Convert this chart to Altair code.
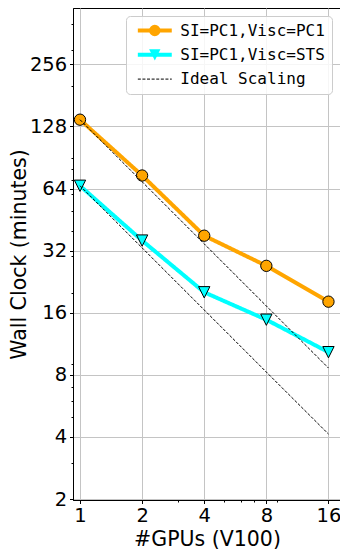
import json
import altair as alt
import pandas as pd

# ---- data ----
gpus = [1, 2, 4, 8, 16]
pc1_minutes = [138, 74, 37.8, 27, 18.1]
sts_minutes = [66, 35.8, 20.1, 14.8, 10.3]
ideal_from_pc1 = [138, 69, 34.5, 17.25, 8.63]
ideal_from_sts = [66, 33, 16.5, 8.25, 4.13]

series_names = ["SI=PC1,Visc=PC1", "SI=PC1,Visc=STS", "Ideal Scaling"]
series_colors = ["#FFA500", "#00FFFF", "black"]
series_widths = [4, 4, 1]
series_dashes = [[1, 0], [1, 0], [3, 1.6]]
marker_names = series_names[:2]
marker_shapes = ["circle", "M0,1L1,-1L-1,-1Z"]

y_major = [2, 4, 8, 16, 32, 64, 128, 256]
y_minor = [3, 5, 6, 7, 9, 20, 30, 40, 50, 60, 70, 80, 90, 200, 300, 400]
x_major = [1, 2, 4, 8, 16]
x_minor = [3, 5, 6, 7, 9]

# ---- tables ----
main_rows = []
for name, vals in zip(series_names[:2], [pc1_minutes, sts_minutes]):
    for g, v in zip(gpus, vals):
        main_rows.append({"gpus": g, "minutes": v, "series": name, "mseries": name, "grp": name})
main_df = pd.DataFrame(main_rows)

ideal_rows = []
for grp, vals in zip(["ideal_pc1", "ideal_sts"], [ideal_from_pc1, ideal_from_sts]):
    for g, v in zip(gpus, vals):
        ideal_rows.append({"gpus": g, "minutes": v, "series": series_names[2], "grp": grp})
ideal_df = pd.DataFrame(ideal_rows)


def cond(major, yes, no):
    return {"condition": {"test": "indexof(%s, datum.value) >= 0" % json.dumps(major), "value": yes},
            "value": no}


x_scale = alt.Scale(type="log", base=2, domain=[0.925, 18.2], nice=False)
y_scale = alt.Scale(type="log", base=2, domain=[1.978, 480], nice=False)

x_axis = alt.Axis(
    values=x_major + x_minor, format="d",
    labelExpr="indexof(%s, datum.value) >= 0 ? datum.label : ''" % json.dumps(x_major),
    tickSize=cond(x_major, 3.5, 2), gridOpacity=cond(x_major, 1, 0),
    labelFlush=False, labelOverlap=False,
    title="#GPUs (V100)", titleX=134, titleY=45.5, titleBaseline="alphabetic",
)
y_axis = alt.Axis(
    values=y_major + y_minor, format="d",
    labelExpr="indexof(%s, datum.value) >= 0 ? datum.label : ''" % json.dumps(y_major),
    tickSize=cond(y_major, 3.5, 2), gridOpacity=cond(y_major, 1, 0),
    labelFlush=False, labelOverlap=False,
    title="Wall Clock (minutes)", titleX=-47.5, titleY=246, titleAngle=-90,
    titleBaseline="alphabetic",
)

X = alt.X("gpus:Q", scale=x_scale, axis=x_axis)
Y = alt.Y("minutes:Q", scale=y_scale, axis=y_axis)

color_scale = alt.Scale(domain=series_names, range=series_colors)
width_scale = alt.Scale(type="ordinal", domain=series_names, range=series_widths)
dash_scale = alt.Scale(domain=series_names, range=series_dashes)

legend_common = dict(
    orient="none", legendX=53, legendY=8, padding=6.5, title=None,
    symbolOffset=14.3, labelOffset=17.5, labelFont="DejaVu Sans Mono",
    labelFontSize=16, labelColor="black", labelLimit=400, rowPadding=8.3,
)

legend_lines = alt.Legend(
    fillColor="rgba(255,255,255,0.85)", strokeColor="#cccccc", cornerRadius=4,
    symbolType="M-4,0H4", symbolSize=72, zindex=0, **legend_common,
)
legend_marks = alt.Legend(
    symbolSize=128, symbolStrokeColor="black", symbolStrokeWidth=1,
    labelOpacity=0, zindex=1, **legend_common,
)

lines = alt.Chart(main_df).mark_line(strokeCap="butt").encode(
    x=X, y=Y,
    color=alt.Color("series:N", scale=color_scale, legend=legend_lines),
    strokeWidth=alt.StrokeWidth("series:N", scale=width_scale),
    strokeDash=alt.StrokeDash("series:N", scale=dash_scale),
    detail="grp:N",
)

points = alt.Chart(main_df).mark_point(filled=True, stroke="black", strokeWidth=1,
                                       size=128, opacity=1).encode(
    x=X, y=Y,
    shape=alt.Shape("mseries:N", scale=alt.Scale(domain=marker_names, range=marker_shapes),
                    legend=legend_marks),
    fill=alt.Fill("mseries:N", scale=alt.Scale(domain=marker_names, range=series_colors[:2])),
)

ideal = alt.Chart(ideal_df).mark_line().encode(
    x=X, y=Y,
    color=alt.Color("series:N", scale=color_scale, legend=legend_lines),
    strokeWidth=alt.StrokeWidth("series:N", scale=width_scale),
    strokeDash=alt.StrokeDash("series:N", scale=dash_scale),
    detail="grp:N",
)

chart = alt.layer(lines, points, ideal).properties(
    width=267, height=492,
    autosize=alt.AutoSizeParams(type="none"),
    padding={"left": 65, "top": 0, "right": 0, "bottom": 50},
).configure_view(
    stroke="black", strokeWidth=1,
).configure_axis(
    labelFont="DejaVu Sans", titleFont="DejaVu Sans",
    labelFontSize=19.5, titleFontSize=20.5, titleFontWeight="normal",
    labelColor="black", titleColor="black", tickColor="black",
    domainColor="black", domainWidth=1, tickWidth=1,
    gridColor="#c4c4c4", gridWidth=1, labelPadding=2.8,
)

chart.save("out.html", embed_options={"renderer": "svg", "actions": False})
